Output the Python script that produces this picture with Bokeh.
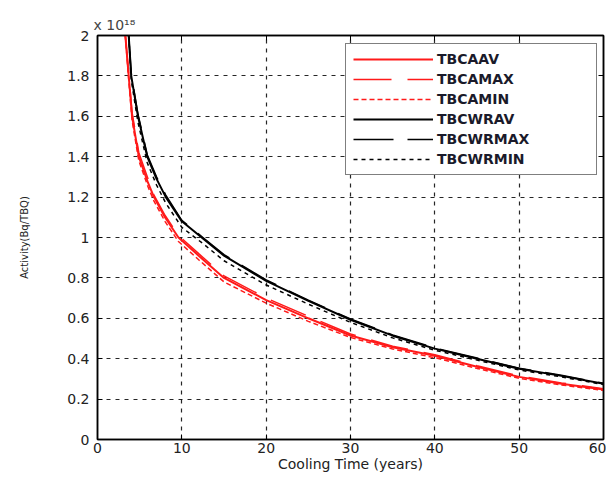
from bokeh.plotting import figure
from bokeh.models import LinearAxis, FixedTicker, CustomJSTickFormatter, Legend, LegendItem
from bokeh.embed import file_html
from bokeh.resources import INLINE

# ---- data (values in units of 1e18) ----
x_tbca = [3.3, 3.7, 4.1, 4.9, 6.0, 6.7, 8.0, 9.6, 12, 15, 20, 25, 30, 35, 40, 45, 50, 55, 60]
tbca_av = [2.0, 1.8, 1.6, 1.4, 1.27, 1.2, 1.10, 1.0, 0.91, 0.80, 0.69, 0.60, 0.515, 0.457, 0.415, 0.36, 0.31, 0.276, 0.248]
tbca_max = [2.0, 1.81, 1.62, 1.42, 1.29, 1.21, 1.11, 1.01, 0.92, 0.81, 0.70, 0.61, 0.522, 0.462, 0.42, 0.365, 0.314, 0.28, 0.251]
tbca_min = [2.0, 1.78, 1.58, 1.38, 1.25, 1.18, 1.08, 0.98, 0.89, 0.78, 0.675, 0.585, 0.505, 0.448, 0.405, 0.352, 0.303, 0.27, 0.243]

x_tbcwr = [3.7, 4.0, 4.8, 5.9, 7.0, 8.1, 10, 12.5, 15, 20, 25, 30, 35, 40, 45, 50, 55, 60]
tbcwr_av = [2.0, 1.8, 1.6, 1.4, 1.29, 1.2, 1.08, 0.995, 0.91, 0.785, 0.686, 0.593, 0.514, 0.45, 0.40, 0.35, 0.315, 0.276]
tbcwr_max = [2.0, 1.81, 1.61, 1.41, 1.30, 1.21, 1.085, 1.0, 0.915, 0.79, 0.69, 0.597, 0.518, 0.453, 0.403, 0.353, 0.318, 0.278]
tbcwr_min = [2.0, 1.78, 1.57, 1.37, 1.26, 1.17, 1.05, 0.97, 0.885, 0.765, 0.67, 0.58, 0.503, 0.442, 0.393, 0.344, 0.31, 0.272]

x_ticks = [0, 10, 20, 30, 40, 50, 60]
y_ticks = [0, 0.2, 0.4, 0.6, 0.8, 1.0, 1.2, 1.4, 1.6, 1.8, 2.0]
y_tick_labels = ["0", "0.2", "0.4", "0.6", "0.8", "1", "1.2", "1.4", "1.6", "1.8", "2"]

names = ["TBCAAV", "TBCAMAX", "TBCAMIN", "TBCWRAV", "TBCWRMAX", "TBCWRMIN"]

FONT = "DejaVu Sans"
RED = "#ff1a1a"

p = figure(width=606, height=474, x_range=(0, 60), y_range=(0, 2),
           output_backend="svg", toolbar_location=None,
           title="x 10¹⁸",
           min_border_left=97, min_border_right=3, min_border_top=35, min_border_bottom=30)
p.title.text_font = FONT
p.title.text_font_size = "14px"
p.title.text_font_style = "normal"
p.title.offset = -4
p.title.standoff = 6
p.outline_line_color = "black"
p.outline_line_width = 1.5
p.background_fill_color = "white"

for ax in (p.xaxis[0], p.yaxis[0]):
    ax.major_tick_in = 5
    ax.major_tick_out = 0
    ax.minor_tick_line_color = None
    ax.axis_line_color = "black"
    ax.axis_line_width = 1.5
    ax.major_label_text_font = FONT
    ax.major_label_text_font_size = "14px"
    ax.major_label_text_color = "#222222"
    ax.axis_label_text_font = FONT
    ax.axis_label_text_font_style = "normal"
    ax.axis_label_text_color = "#222222"

p.xaxis.ticker = FixedTicker(ticks=x_ticks)
p.yaxis.ticker = FixedTicker(ticks=y_ticks)
p.yaxis.major_label_overrides = {t: l for t, l in zip(y_ticks, y_tick_labels)}
p.xaxis.axis_label = "Cooling Time (years)"
p.xaxis.axis_label_text_font_size = "14px"
p.xaxis.axis_label_standoff = 0
p.xaxis.major_label_standoff = 3
p.yaxis.axis_label = "Activity(Bq/TBQ)"
p.yaxis.axis_label_text_font_size = "10px"
p.yaxis.axis_label_standoff = 34
p.yaxis.major_label_standoff = 8

blank = CustomJSTickFormatter(code="return ''")
top = LinearAxis(ticker=FixedTicker(ticks=x_ticks), formatter=blank,
                 major_tick_in=5, major_tick_out=0, minor_tick_line_color=None,
                 major_label_standoff=0, major_label_text_font_size="1px", axis_line_width=1.5)
right = LinearAxis(ticker=FixedTicker(ticks=y_ticks), formatter=blank,
                   major_tick_in=5, major_tick_out=0, minor_tick_line_color=None,
                   major_label_standoff=0, major_label_text_font_size="1px", axis_line_width=1.5)
p.add_layout(top, "above")
p.add_layout(right, "right")

p.xgrid.ticker = FixedTicker(ticks=x_ticks)
p.ygrid.ticker = FixedTicker(ticks=y_ticks)
p.grid.grid_line_color = "black"
p.grid.grid_line_dash = "4 5"
p.grid.grid_line_width = 1.2
p.grid.grid_line_alpha = 0.85

r1 = p.line(x_tbca, tbca_av, line_color=RED, line_width=2)
r2 = p.line(x_tbca, tbca_max, line_color=RED, line_width=1.5, line_dash="38 16")
r3 = p.line(x_tbca, tbca_min, line_color=RED, line_width=1.5, line_dash="5 3")
r4 = p.line(x_tbcwr, tbcwr_av, line_color="black", line_width=2)
r5 = p.line(x_tbcwr, tbcwr_max, line_color="black", line_width=1.5, line_dash="40 14")
r6 = p.line(x_tbcwr, tbcwr_min, line_color="black", line_width=1.5, line_dash="4 4")

legend = Legend(items=[LegendItem(label=n, renderers=[r]) for n, r in zip(names, [r1, r2, r3, r4, r5, r6])],
                location=(248, 264), orientation="vertical")
legend.label_text_font = FONT
legend.label_text_font_size = "14px"
legend.label_text_font_style = "bold"
legend.label_text_color = "#1a1a2a"
legend.glyph_width = 80
legend.glyph_height = 16
legend.label_height = 16
legend.label_width = 152
legend.spacing = 4
legend.padding = 7
legend.margin = 0
legend.label_standoff = 4
legend.border_line_color = "black"
legend.border_line_width = 1.2
legend.background_fill_alpha = 1
p.add_layout(legend, "center")

open("out.html", "w").write(file_html(p, INLINE))
